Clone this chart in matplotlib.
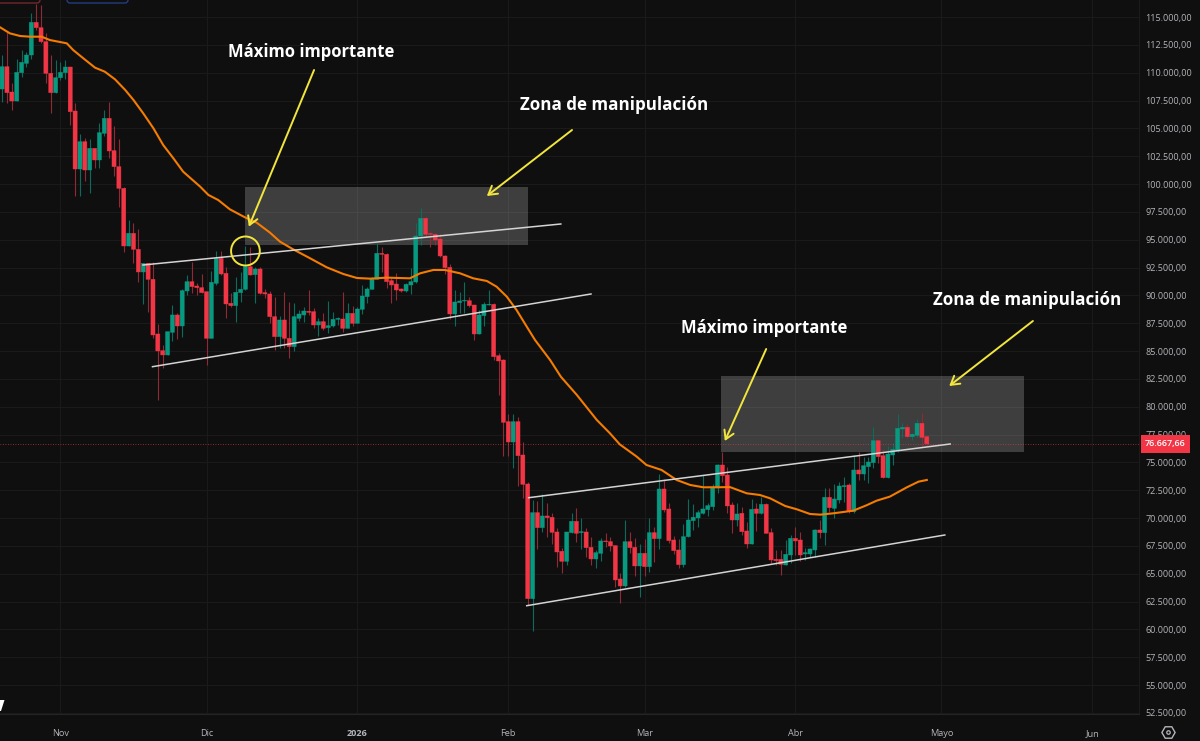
import numpy as np
import matplotlib
matplotlib.use("Agg")
import matplotlib.pyplot as plt
from matplotlib.patches import Rectangle, Ellipse, FancyBboxPatch, Polygon

# days are counted from 1 Nov 2025, one candle per day
first_day = -12

opens = [
    108535,110540,108265,107457,110001,110839,111588,114521,114042,112785,
    109941,108206,109552,110001,110510,106559,101351,103806,101261,103207,
    102160,104554,105901,102998,101561,99616,94438,95575,94138,92104,
    92882,91445,86536,85040,84651,86686,88242,87254,90397,91235,
    90846,90696,90337,86147,91086,93331,91983,89290,89080,90248,
    90547,92582,91864,92372,90248,90128,88092,86296,87792,86146,
    85398,87942,88241,88571,88541,87343,87643,87104,87254,87852,
    87882,87044,88391,87493,88750,89887,90546,91444,93778,93688,
    91324,91025,90576,90396,90935,91204,95335,96921,95544,95484,
    95065,93539,92521,88331,89349,89498,89528,89139,86535,88181,
    89139,89199,84588,84199,78662,76836,78662,75669,73065,62769,
    70491,69145,70192,70072,68755,67019,66121,68695,69713,68695,
    68755,67378,66331,66840,67947,67887,67528,64535,63906,67887,
    67378,65703,66840,65642,68695,68157,72616,70821,68037,67139,
    65822,68336,69773,70012,70431,70760,71030,72706,74771,73873,
    71179,69832,70431,68844,67677,70820,70431,71239,68695,66300,
    66300,65791,66689,68186,68036,66779,66779,67138,68934,68695,
    71867,70880,71628,72825,72975,70580,74322,73962,74621,74980,
    76955,75609,73633,75669,76117,78003,78153,77315,77434,78512,
    77315,
]
highs = [
    111588,113683,109044,111198,112036,111887,115389,116167,116077,113533,
    111588,111139,110989,111139,110540,107248,104464,104105,104015,103207,
    105452,106649,107397,105213,104015,99765,96772,96473,95934,92882,
    92882,93031,87434,85549,86746,89140,88451,90547,91834,93031,
    91086,91924,90337,92223,94018,94018,92582,90188,91624,92133,
    94438,94378,92582,92582,90547,90427,89887,88151,90336,89439,
    89349,88690,88990,90486,88840,87942,88391,89498,88541,88092,
    90336,89289,89049,88930,90935,90725,91683,94676,94377,93778,
    91534,91983,90695,91145,92432,96472,97879,97071,95813,95574,
    95574,93629,92791,90486,90336,91174,89828,89139,88690,89439,
    90486,89289,84799,84259,79350,79321,79111,76866,73275,71629,
    71569,72167,71389,70431,69085,67289,68785,70491,70910,69983,
    69085,68336,67139,68187,68636,68336,67588,65044,69833,68785,
    68247,67678,68097,69983,69175,73963,73484,71329,68426,68097,
    69443,71689,71269,70731,73873,71329,73065,74861,75909,74622,
    71478,71329,70969,69682,71688,71389,71927,71329,69084,67138,
    67138,68036,68485,69174,68784,67288,67288,68994,69832,72676,
    72676,73064,73274,73723,73125,75669,75968,75519,75519,78213,
    77015,76117,76477,76776,79350,78572,78452,77674,78871,79410,
    77375,
]
lows = [
    107397,107248,106649,107457,109642,110540,111198,113832,112635,109103,
    106350,108206,109343,109433,105302,98927,98927,100304,99227,101411,
    101411,104315,102369,100753,97969,93928,94438,92942,91235,89230,
    88542,86147,80610,83453,84651,85937,86087,86297,90038,90188,
    90038,90188,83753,86147,90936,91834,87944,88931,87644,89439,
    90487,91834,89290,90098,89739,87554,85099,85248,85248,84410,
    85009,87733,87643,88241,87044,86356,86894,86655,87194,87343,
    86745,87044,87254,87493,88331,89289,90546,91444,92132,90636,
    89289,89588,90336,90336,90127,91145,94527,95125,94317,94527,
    93479,91923,87852,87254,88391,88451,88990,85996,86535,87254,
    89139,84201,81057,75609,75609,74532,72916,71838,62201,59896,
    67229,68725,68276,67678,65642,65044,65792,68636,67887,67229,
    66540,65792,65553,66181,67378,67079,63787,62410,63847,66840,
    64835,62949,64805,65194,66092,67229,70521,67737,66780,65553,
    65642,68276,68935,69175,70371,70222,70731,72227,73275,70431,
    68695,69293,68485,67288,67677,68844,70371,68635,65941,65791,
    64894,65791,65941,66689,66181,66241,66540,66480,68186,67587,
    70580,69982,71329,71478,70491,70491,73424,73424,73184,74471,
    74920,73633,73633,74771,75968,77165,77165,77015,77255,76417,
    76477,
]
closes = [
    110540,108206,107457,110031,110929,111588,114521,114042,112785,109941,
    108206,109552,110031,110510,106500,101351,103806,101261,103207,102160,
    104614,105901,102968,101561,99616,94438,95575,94138,92104,92882,
    91445,86446,85009,84651,86746,88242,87254,90427,91235,90786,
    90696,90248,86147,91175,93331,91924,89230,89080,90278,90547,
    92582,91834,92372,90188,90128,88092,86296,87792,86146,85398,
    88092,88331,88600,88481,87343,87643,87044,87284,87852,87942,
    87044,88391,87493,88780,89947,90576,91474,93778,93688,91234,
    90935,90486,90396,90995,91234,95335,96921,95484,95484,94975,
    93539,92491,88331,89408,89498,89558,89079,86535,88241,89199,
    89199,84500,84109,78602,76836,78662,75609,73035,62769,70491,
    69145,70192,70042,68725,66959,66121,68755,69713,68636,68785,
    67349,66331,66900,67947,67887,67499,64445,63906,67887,67349,
    65703,66840,65642,68695,68157,72616,70731,67977,67079,65822,
    68336,69833,70072,70491,70821,71120,72766,74771,73813,71090,
    69832,70371,68784,67677,70790,70431,71239,68635,66241,66181,
    65852,66749,68186,67947,66689,66898,67228,68934,68695,71867,
    70939,71718,72885,72915,70580,74322,73962,74711,75040,76955,
    75519,73633,75758,76177,78063,78153,77315,77524,78512,77255,
    76667,
]

ma_days = [
    -12.4,-10.4,-8.3,-6.3,-3.9,-2.2,1.3,2.6,4.7,7.1,9.1,11.2,13.3,15,17,19.1,21.1,23.2,25.2,
    28.7,30.4,32.4,34.8,37.9,40.3,43,45.1,47.8,51.3,54.7,58.1,60.9,63.6,67,71.8,73.9,76.6,79,
    82.1,84.8,87.6,89.6,91.7,93.7,95.8,97.5,100.6,102.8,106.1,110.2,112.9,114.9,118.4,120.4,
    123.5,126.6,129.4,132.1,137.6,141,143.7,145.8,148.9,151.3,154,156.1,158.8,162.9,165.6,
    167.7,170.4,173.9,176.3,178,
]
ma_values = [
    114072,113533,113294,113234,113234,112934,112635,112036,111288,110450,110091,109403,108445,
    107547,106350,105003,103506,102309,101112,99765,99017,98568,97730,97012,96532,95650,94826,
    94137,93329,92521,91923,91564,91504,91594,91534,91983,92282,92282,91983,91534,91294,90785,
    89887,88690,87194,85995,84199,82703,81057,78812,77615,76627,75519,74771,74323,73424,72975,
    72766,72780,72227,72077,71778,71089,70790,70371,70311,70431,70670,71149,71568,71928,72765,
    73274,73424,
]

month_days = [0, 30, 61, 92, 120, 151, 181, 212]
month_labels = ["Nov", "Dic", "2026", "Feb", "Mar", "Abr", "Mayo", "Jun"]
last_price = 76667.66

BG = "#0f0f0f"
GRID = "#1a1a1a"
UP = "#089981"
DOWN = "#f23645"
UP_WICK = "#0b6b5c"
DOWN_WICK = "#8f2a36"
YELLOW = "#f2e63c"
LABEL = "#b4b5ba"

fig = plt.figure(figsize=(12, 7.41), dpi=100, facecolor=BG)
ax = fig.add_axes([0, 27 / 741, 1139 / 1200, 714 / 741], facecolor=BG)

opens = np.array(opens)
highs = np.array(highs)
lows = np.array(lows)
closes = np.array(closes)
days = np.arange(first_day, first_day + len(opens))
up = closes >= opens

# boxes go under the candles
ax.add_patch(Rectangle((37.9, 94526), 58.15, 5208, fc="white", alpha=0.2, lw=0, zorder=1))
ax.add_patch(Rectangle((135.8, 75910), 62.1, 6852, fc="white", alpha=0.2, lw=0, zorder=1))

ax.vlines(days[up], lows[up], highs[up], color=UP_WICK, lw=0.8, zorder=2)
ax.vlines(days[~up], lows[~up], highs[~up], color=DOWN_WICK, lw=0.8, zorder=2)
body_low = np.minimum(opens, closes)
body_h = np.abs(closes - opens)
# no snapping, the bodies jump between 3 and 5 px wide otherwise
for is_up, col in [(up, UP), (~up, DOWN)]:
    ax.bar(days[is_up], body_h[is_up], 0.84, body_low[is_up], color=col, ec=col, lw=0.3, zorder=3, snap=False)

ax.plot(ma_days, ma_values, color="#f57c00", lw=1.5, zorder=4)

# channel lines
for x0, y0, x1, y1 in [(16.95, 92730, 102.8, 96412), (18.9, 83597, 109, 90126),
                       (96.2, 71834, 182.8, 76656), (95.8, 62134, 181.7, 68484)]:
    ax.plot([x0, x1], [y0, y1], color="#d4d4d4", lw=1.1, zorder=5)

ax.axhline(last_price, color=DOWN, lw=0.6, ls=(0, (1, 2)), alpha=0.8, zorder=2)

# yellow arrows and circle
for tail, head in [((52.1, 110241), (38.7, 96170)), ((105.1, 104853), (87.6, 98927)),
                   ((145, 85187), (136.5, 76925)), ((199.8, 87701), (182.6, 81864))]:
    ax.annotate("", xy=head, xytext=tail, zorder=6,
                arrowprops=dict(arrowstyle="->,head_length=0.6,head_width=0.36", color=YELLOW,
                                lw=1.4, shrinkA=0, shrinkB=0))
ax.add_patch(Ellipse((38, 93987), 5.9, 2604, fc="none", ec=YELLOW, lw=1.4, zorder=6))

for x, y, s, size in [(51.5, 111860, "Máximo importante", 12), (113.7, 107100, "Zona de manipulación", 12.25),
                      (144.6, 87073, "Máximo importante", 12), (198.7, 89600, "Zona de manipulación", 12.25)]:
    ax.text(x, y, s, color="white", fontsize=size, fontweight="bold", family="Open Sans",
            ha="center", va="center", zorder=7)

ax.set_xlim(-12.43, 221.6)
ax.set_ylim(52409, 116527)
ax.set_axisbelow(True)
ax.grid(True, color=GRID, lw=0.8)

yticks = np.arange(52500, 115001, 2500)
ax.yaxis.tick_right()
ax.set_yticks(yticks)
ax.set_yticklabels([f"{v:,.2f}".replace(",", "X").replace(".", ",").replace("X", ".") for v in yticks],
                   family="Open Sans", fontsize=6.5, color=LABEL)
ax.set_xticks(month_days)
ax.set_xticklabels(month_labels, family="Open Sans", fontsize=6.6, color=LABEL)
ax.get_xticklabels()[2].set_fontweight("bold")
ax.tick_params(axis="both", length=0)
ax.tick_params(axis="y", pad=4.5)
ax.tick_params(axis="x", pad=11)
for side in ["top", "left"]:
    ax.spines[side].set_visible(False)
ax.spines["bottom"].set_color("#242424")
ax.spines["right"].set_color("#1b1b1b")

ax.text(1.0053, last_price, "76.667,66", transform=ax.get_yaxis_transform(), color="white",
        fontsize=6.5, family="Open Sans", fontweight="semibold", va="center", ha="left", zorder=10, clip_on=False,
        bbox=dict(boxstyle="square,pad=0.5", fc=DOWN, ec="none"))

# bits of the screenshot around the chart: cut off buttons, logo, gear
page = fig.add_axes([0, 0, 1, 1], facecolor="none", zorder=20)
page.set_xlim(0, 1200)
page.set_ylim(741, 0)
page.axis("off")
page.add_patch(FancyBboxPatch((-10, -20), 50, 23, boxstyle="round,pad=0,rounding_size=3", fc="none", ec="#7c2a33", lw=0.9))
page.add_patch(FancyBboxPatch((67, -20), 61, 23, boxstyle="round,pad=0,rounding_size=3", fc="none", ec="#25418c", lw=0.9))
page.add_patch(Polygon([(0, 700), (4.5, 700), (1, 711), (0, 711)], fc="white", lw=0))
page.plot([1168], [732], marker="H", ms=9.5, mfc="none", mec=LABEL, mew=1)
page.plot([1168], [732], marker="o", ms=2.5, mfc="none", mec=LABEL, mew=0.9)

fig.savefig("out.png", dpi=100, facecolor=BG)
